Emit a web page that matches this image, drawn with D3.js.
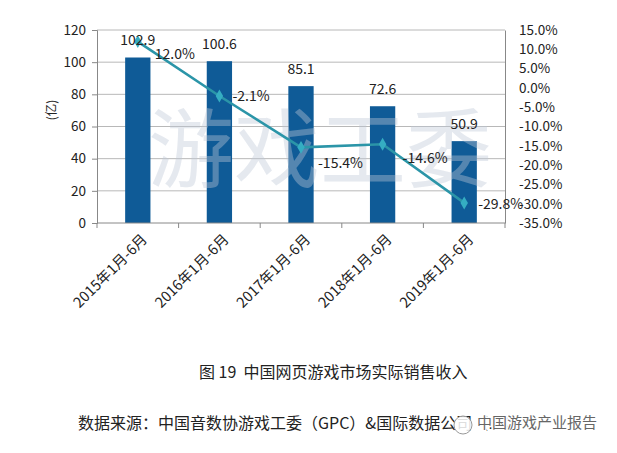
<!DOCTYPE html>
<html>
<head>
<meta charset="utf-8">
<script src="https://cdn.jsdelivr.net/npm/d3@7"></script>
<style>
  body { margin: 0; background: #fff; }
  svg text { font-family: "Noto Sans CJK SC", "Noto Sans", sans-serif; }
</style>
</head>
<body>
<div id="chart"></div>
<script>
// data
const periods = ["2015年1月-6月", "2016年1月-6月", "2017年1月-6月", "2018年1月-6月", "2019年1月-6月"];
const revenue = [102.9, 100.6, 85.1, 72.6, 50.9];
const growth = [0.120, -0.021, -0.154, -0.146, -0.298];
const leftTicks = [0, 20, 40, 60, 80, 100, 120];
const rightTicks = [0.15, 0.10, 0.05, 0, -0.05, -0.10, -0.15, -0.20, -0.25, -0.30, -0.35];

// where each growth label sits relative to its point (layout only)
const pctNudge = [[17, 12], [13, 0], [17, 16], [20, 14], [14, 1]];

const W = 617, H = 453;
const plot = { left: 97, right: 505, top: 30, bottom: 223 };

const svg = d3.select("#chart").append("svg")
    .attr("width", W)
    .attr("height", H);

const x = d3.scaleBand()
    .domain(periods)
    .range([plot.left, plot.right]);

const yL = d3.scaleLinear()
    .domain([0, 120])
    .range([plot.bottom, plot.top]);

const yR = d3.scaleLinear()
    .domain([-0.35, 0.15])
    .range([plot.bottom, plot.top]);

// gridlines
svg.append("g")
    .selectAll("line")
    .data(leftTicks.filter(d => d > 0))
    .enter()
    .append("line")
    .attr("x1", plot.left)
    .attr("x2", plot.right)
    .attr("y1", d => yL(d))
    .attr("y2", d => yL(d))
    .attr("stroke", "#b8b8b8")
    .attr("stroke-width", 1);

// bars
const barW = x.bandwidth() * 0.31;
svg.append("g")
    .selectAll("rect")
    .data(revenue)
    .enter()
    .append("rect")
    .attr("x", (d, i) => x(periods[i]) + x.bandwidth() / 2 - barW / 2)
    .attr("y", d => yL(d))
    .attr("width", barW)
    .attr("height", d => yL(0) - yL(d))
    .attr("fill", "#0f5b97");

// watermark over the bars
svg.append("text")
    .attr("x", 320)
    .attr("y", 150)
    .attr("dy", "0.36em")
    .attr("text-anchor", "middle")
    .attr("font-size", "86px")
    .attr("fill", "rgb(190,199,214)")
    .attr("fill-opacity", 0.4)
    .text("游戏工委");

// left axis
const leftAxis = d3.axisLeft(yL)
    .tickValues(leftTicks)
    .tickSize(5)
    .tickPadding(6);
const gL = svg.append("g")
    .attr("transform", `translate(${plot.left},0)`)
    .call(leftAxis);
gL.select(".domain").attr("stroke", "#888");
gL.selectAll(".tick line").attr("stroke", "#888");
gL.selectAll(".tick text")
    .attr("font-size", "13.5px")
    .attr("fill", "#222");

// right axis
const rightAxis = d3.axisRight(yR)
    .tickValues(rightTicks)
    .tickSize(0)
    .tickPadding(14)
    .tickFormat(d3.format(".1%"));
const gR = svg.append("g")
    .attr("transform", `translate(${plot.right},0)`)
    .call(rightAxis);
gR.select(".domain").attr("stroke", "#888");
gR.selectAll(".tick text")
    .attr("font-size", "13.5px")
    .attr("fill", "#222")
    .text(d => d3.format(".1%")(d).replace("−", "-"));

// bottom axis line with ticks at category boundaries
svg.append("line")
    .attr("x1", plot.left)
    .attr("x2", plot.right)
    .attr("y1", plot.bottom)
    .attr("y2", plot.bottom)
    .attr("stroke", "#888");

const bounds = periods.map(p => x(p)).concat([x(periods[periods.length - 1]) + x.bandwidth()]);
svg.append("g")
    .selectAll("line")
    .data(bounds)
    .enter()
    .append("line")
    .attr("x1", d => d)
    .attr("x2", d => d)
    .attr("y1", plot.bottom)
    .attr("y2", plot.bottom + 5)
    .attr("stroke", "#888");

// category labels, rotated
svg.append("g")
    .selectAll("text")
    .data(periods)
    .enter()
    .append("text")
    .attr("transform", d => `translate(${x(d) + x.bandwidth() / 2 + 3},${plot.bottom + 10}) rotate(-45)`)
    .attr("dy", "0.71em")
    .attr("text-anchor", "end")
    .attr("font-size", "14.5px")
    .attr("fill", "#222")
    .text(d => d);

// y unit
svg.append("text")
    .attr("transform", "translate(52,110) rotate(-90)")
    .attr("dy", "0.35em")
    .attr("text-anchor", "middle")
    .attr("font-size", "12.5px")
    .attr("fill", "#222")
    .text("(亿)");

// growth line
const cx = d => x(d) + x.bandwidth() / 2;
const line = d3.line()
    .x((d, i) => cx(periods[i]))
    .y(d => yR(d));

svg.append("path")
    .datum(growth)
    .attr("d", line)
    .attr("fill", "none")
    .attr("stroke", "#2b95a8")
    .attr("stroke-width", 2.6);

svg.append("g")
    .selectAll("path")
    .data(growth)
    .enter()
    .append("path")
    .attr("transform", (d, i) => `translate(${cx(periods[i])},${yR(d)})`)
    .attr("d", d3.symbol().type(d3.symbolDiamond).size(48))
    .attr("fill", "#35adc2");

// bar value labels
svg.append("g")
    .selectAll("text")
    .data(revenue)
    .enter()
    .append("text")
    .attr("x", (d, i) => cx(periods[i]))
    .attr("y", d => yL(d) - 17.5)
    .attr("dy", "0.36em")
    .attr("text-anchor", "middle")
    .attr("font-size", "14px")
    .attr("fill", "#222")
    .text(d => d.toFixed(1));

// growth labels
svg.append("g")
    .selectAll("text")
    .data(growth)
    .enter()
    .append("text")
    .attr("x", (d, i) => cx(periods[i]) + pctNudge[i][0])
    .attr("y", (d, i) => yR(d) + pctNudge[i][1])
    .attr("dy", "0.36em")
    .attr("font-size", "14px")
    .attr("fill", "#222")
    .text(d => (d * 100).toFixed(1) + "%");

// caption
svg.append("text")
    .attr("x", 199)
    .attr("y", 372)
    .attr("dy", "0.36em")
    .attr("font-size", "16px")
    .attr("fill", "#222")
    .attr("xml:space", "preserve")
    .text("图 19  中国网页游戏市场实际销售收入");

// source line
svg.append("text")
    .attr("x", 78)
    .attr("y", 423)
    .attr("dy", "0.36em")
    .attr("font-size", "16px")
    .attr("fill", "#222")
    .text("数据来源：中国音数协游戏工委（GPC）&国际数据公司（IDC）");

// account stamp over the source line
svg.append("circle")
    .attr("cx", 463)
    .attr("cy", 425)
    .attr("r", 9)
    .attr("fill", "#fff")
    .attr("fill-opacity", 0.85)
    .attr("stroke", "#999")
    .attr("stroke-width", 1);

svg.append("text")
    .attr("x", 477)
    .attr("y", 423)
    .attr("dy", "0.36em")
    .attr("font-size", "15px")
    .attr("fill", "#666")
    .attr("stroke", "#fff")
    .attr("stroke-width", 3)
    .attr("paint-order", "stroke")
    .text("中国游戏产业报告");
</script>
</body>
</html>
